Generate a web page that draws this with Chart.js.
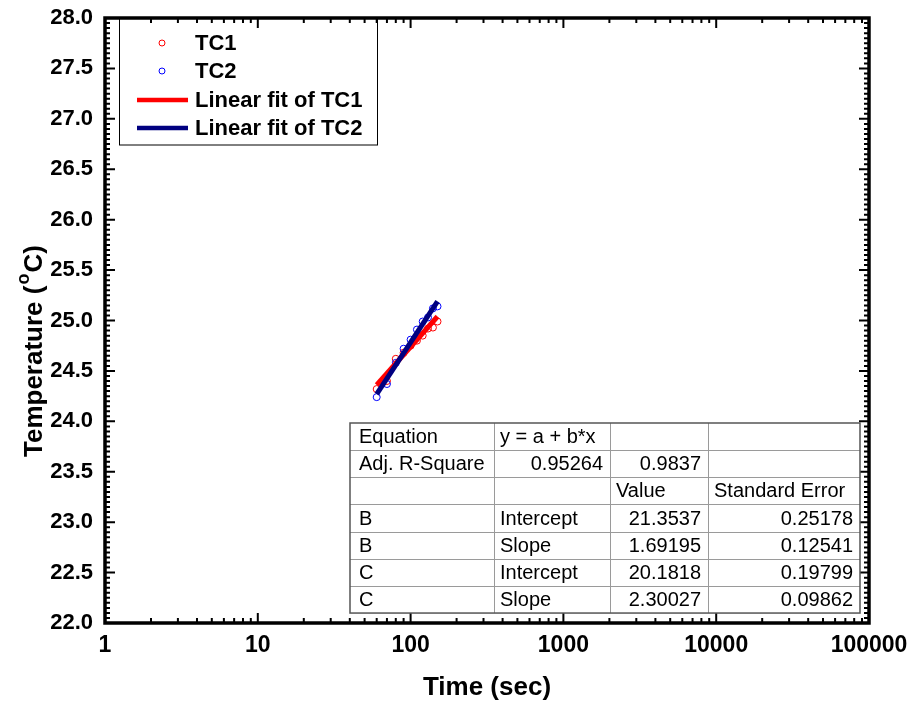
<!DOCTYPE html>
<html><head><meta charset="utf-8">
<script src="https://cdn.jsdelivr.net/npm/chart.js@4/dist/chart.umd.min.js"></script>
<style>html,body{margin:0;padding:0;background:#fff}#wrap{width:910px;height:707px;position:relative}</style>
</head><body><div id="wrap"><canvas id="c" width="910" height="707"></canvas></div>
<script>
// ---- data ----
const timeSec = [60, 70, 80, 90, 100, 110, 120, 130, 140, 150];
const tc1 = [24.32, 24.40, 24.62, 24.68, 24.75, 24.80, 24.85, 24.92, 24.93, 24.99];
const tc2 = [24.24, 24.37, 24.58, 24.72, 24.81, 24.91, 24.99, 25.03, 25.12, 25.14];
const fitX = [60, 150];
const fitTC1 = [24.36, 25.04];
const fitTC2 = [24.27, 25.19];
const xTicks = [1, 10, 100, 1000, 10000, 100000];
const yTicks = [22.0, 22.5, 23.0, 23.5, 24.0, 24.5, 25.0, 25.5, 26.0, 26.5, 27.0, 27.5, 28.0];
const seriesLabels = ['TC1', 'TC2', 'Linear fit of TC1', 'Linear fit of TC2'];
const tableRows = [
  ['Equation', 'y = a + b*x', '', ''],
  ['Adj. R-Square', '0.95264', '0.9837', ''],
  ['', '', 'Value', 'Standard Error'],
  ['B', 'Intercept', '21.3537', '0.25178'],
  ['B', 'Slope', '1.69195', '0.12541'],
  ['C', 'Intercept', '20.1818', '0.19799'],
  ['C', 'Slope', '2.30027', '0.09862']
];

const FONT = "Arial, 'Liberation Sans', sans-serif";
const pts = arr => timeSec.map((t, i) => ({x: t, y: arr[i]}));
const line = arr => fitX.map((t, i) => ({x: t, y: arr[i]}));

const decorPlugin = {
  id: 'decor',
  afterDraw(chart) {
    const c = chart.ctx, a = chart.chartArea, sx = chart.scales.x, sy = chart.scales.y;
    c.save();
    // ticks (inward, mirrored)
    c.strokeStyle = '#000'; c.lineWidth = 2;
    const vt = (px, len) => { c.beginPath(); c.moveTo(px, a.bottom); c.lineTo(px, a.bottom - len); c.moveTo(px, a.top); c.lineTo(px, a.top + len); c.stroke(); };
    const ht = (py, len) => { c.beginPath(); c.moveTo(a.left, py); c.lineTo(a.left + len, py); c.moveTo(a.right, py); c.lineTo(a.right - len, py); c.stroke(); };
    xTicks.forEach((d, i) => {
      vt(sx.getPixelForValue(d), 10);
      if (i < xTicks.length - 1) for (let k = 2; k <= 9; k++) vt(sx.getPixelForValue(d * k), 5);
    });
    yTicks.forEach((v, i) => {
      ht(sy.getPixelForValue(v), 10);
      if (i < yTicks.length - 1) for (let k = 1; k < 10; k++) ht(sy.getPixelForValue(v + k * 0.05), 5);
    });
    // frame
    c.lineWidth = 3.5;
    c.strokeRect(a.left, a.top, a.right - a.left, a.bottom - a.top);

    // y title with superscript
    c.save();
    c.translate(35, 457); c.rotate(-Math.PI / 2);
    c.fillStyle = '#000'; c.textBaseline = 'middle'; c.textAlign = 'left';
    c.font = 'bold 26px ' + FONT;
    let x = 0; const s1 = 'Temperature (';
    c.fillText(s1, x, 0); x += c.measureText(s1).width;
    c.font = 'bold 18px ' + FONT;
    c.fillText('o', x + 1, -11); x += c.measureText('o').width + 2;
    c.font = 'bold 26px ' + FONT;
    c.fillText('C)', x, 0);
    c.restore();

    // legend
    const ds = chart.data.datasets;
    c.lineWidth = 1; c.strokeStyle = '#000';
    c.strokeRect(119.5, a.top, 258, 127);
    const rowsY = [43, 71, 100, 128];
    c.font = 'bold 22px ' + FONT; c.textBaseline = 'middle'; c.textAlign = 'left'; c.fillStyle = '#000';
    ds.forEach((d, i) => {
      const y = rowsY[i];
      if (d.type === 'scatter') {
        c.beginPath(); c.arc(162, y, 3, 0, Math.PI * 2);
        c.strokeStyle = d.pointBorderColor; c.lineWidth = 1; c.stroke();
      } else {
        c.beginPath(); c.moveTo(137, y); c.lineTo(188, y);
        c.strokeStyle = d.borderColor; c.lineWidth = 4.5; c.stroke();
      }
      c.fillStyle = '#000';
      c.fillText(d.label, 195, y + 1);
    });

    // table
    const cols = [350, 494, 610, 708, 860];
    const top = 423, rh = 27.15, nR = tableRows.length;
    c.fillStyle = '#fff';
    c.fillRect(cols[0], top, cols[4] - cols[0], rh * nR);
    c.strokeStyle = '#9a9a9a'; c.lineWidth = 1;
    for (let r = 1; r < nR; r++) { c.beginPath(); c.moveTo(cols[0], Math.round(top + r * rh) + 0.5); c.lineTo(cols[4], Math.round(top + r * rh) + 0.5); c.stroke(); }
    for (let k = 1; k < 4; k++) { c.beginPath(); c.moveTo(cols[k] + 0.5, top); c.lineTo(cols[k] + 0.5, top + rh * nR); c.stroke(); }
    c.strokeStyle = '#555'; c.lineWidth = 1.5;
    c.strokeRect(cols[0], top, cols[4] - cols[0], rh * nR);
    c.font = '20px ' + FONT; c.fillStyle = '#000'; c.textBaseline = 'middle';
    tableRows.forEach((row, r) => {
      const y = top + r * rh + rh / 2 + 1;
      row.forEach((txt, k) => {
        if (!txt) return;
        const numeric = /^[0-9.]+$/.test(txt);
        if (numeric) { c.textAlign = 'right'; c.fillText(txt, cols[k + 1] - 7, y); }
        else { c.textAlign = 'left'; c.fillText(txt, cols[k] + (k === 0 ? 9 : 6), y); }
      });
    });
    c.restore();
  }
};

new Chart(document.getElementById('c'), {
  type: 'scatter',
  data: {
    datasets: [
      {type: 'scatter', label: seriesLabels[0], data: pts(tc1), pointStyle: 'circle', pointRadius: 3.5,
       pointBorderColor: '#ff0000', pointBackgroundColor: 'rgba(0,0,0,0)', pointBorderWidth: 1,
       borderColor: '#ff0000', backgroundColor: 'rgba(0,0,0,0)', showLine: false, order: 4},
      {type: 'scatter', label: seriesLabels[1], data: pts(tc2), pointStyle: 'circle', pointRadius: 3.5,
       pointBorderColor: '#0000ff', pointBackgroundColor: 'rgba(0,0,0,0)', pointBorderWidth: 1,
       borderColor: '#0000ff', backgroundColor: 'rgba(0,0,0,0)', showLine: false, order: 3},
      {type: 'line', label: seriesLabels[2], data: line(fitTC1), borderColor: '#ff0000', borderWidth: 5,
       pointRadius: 0, fill: false, order: 2, borderCapStyle: 'butt'},
      {type: 'line', label: seriesLabels[3], data: line(fitTC2), borderColor: '#000080', borderWidth: 5,
       pointRadius: 0, fill: false, order: 1, borderCapStyle: 'butt'}
    ]
  },
  options: {
    responsive: false, animation: false, devicePixelRatio: 1,
    layout: {padding: {top: 18, right: 41, bottom: 4, left: 0}},
    plugins: {legend: {display: false}, tooltip: {enabled: false}},
    scales: {
      x: {
        type: 'logarithmic', position: 'bottom', min: 1, max: 100000,
        afterBuildTicks: s => { s.ticks = xTicks.map(v => ({value: v})); },
        afterFit: s => { s.height = 703 - 623; s.paddingLeft = 0; s.paddingRight = 0; },
        ticks: {font: {family: FONT, size: 23, weight: 'bold'}, color: '#000', padding: 9,
                autoSkip: false, maxRotation: 0, minRotation: 0, callback: v => String(v)},
        grid: {display: false, drawTicks: false},
        border: {display: false},
        title: {display: true, text: 'Time (sec)', color: '#000', font: {family: FONT, size: 26, weight: 'bold'}, padding: 0}
      },
      y: {
        type: 'linear', position: 'left', min: 22, max: 28,
        afterBuildTicks: s => { s.ticks = yTicks.map(v => ({value: v})); },
        afterFit: s => { s.width = 105; s.paddingTop = 0; s.paddingBottom = 0; },
        ticks: {font: {family: FONT, size: 22, weight: 'bold'}, color: '#000', padding: 12,
                autoSkip: false, callback: v => Number(v).toFixed(1)},
        grid: {display: false, drawTicks: false},
        border: {display: false},
        title: {display: false}
      }
    }
  },
  plugins: [decorPlugin]
});
</script>
</body></html>
